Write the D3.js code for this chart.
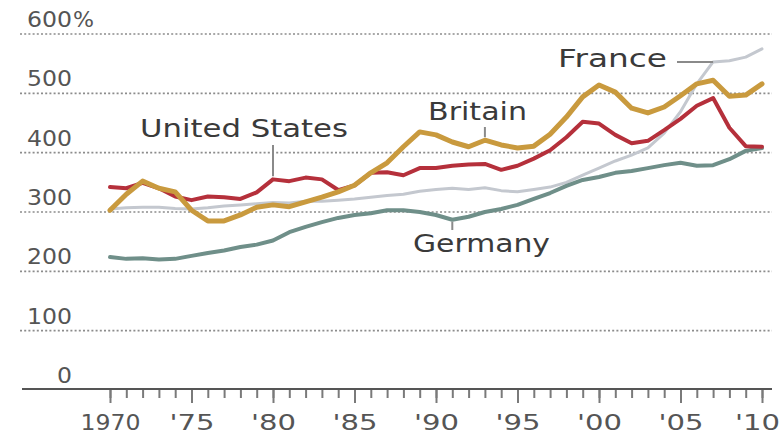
<!DOCTYPE html>
<html>
<head>
<meta charset="utf-8">
<script src="https://cdn.jsdelivr.net/npm/d3@7"></script>
<style>
  html, body { margin: 0; padding: 0; background: #fff; }
  svg { display: block; }
  text { font-family: "DejaVu Sans", Verdana, sans-serif; }
</style>
</head>
<body>
<svg id="chart" width="781" height="436"></svg>
<script>
// Household debt as a share of disposable income, 1970–2010
const years = d3.range(1970, 2011);

const unitedStates = [342, 340, 349, 340, 326, 320, 326, 325, 322, 333,
  355, 352, 358, 355, 337, 345, 366, 367, 362, 374,
  374, 378, 380, 381, 371, 378, 390, 404, 426, 452,
  449, 430, 416, 420, 438, 457, 479, 492, 442, 411, 410];

const britain = [303, 330, 352, 340, 334, 303, 285, 285, 295, 308,
  312, 309, 317, 325, 334, 345, 366, 383, 410, 435,
  430, 418, 410, 421, 413, 408, 411, 431, 460, 494,
  514, 502, 475, 467, 477, 496, 516, 522, 495, 497, 516];

const france = [305, 307, 308, 308, 306, 305, 307, 310, 312, 314,
  316, 315, 318, 318, 320, 322, 325, 328, 330, 335,
  338, 340, 338, 341, 336, 334, 338, 342, 350, 362,
  374, 386, 396, 408, 433, 469, 516, 553, 555, 561, 575];

const germany = [224, 221, 222, 220, 221, 226, 231, 235, 241, 245,
  252, 266, 275, 283, 290, 295, 298, 303, 303, 300,
  295, 287, 292, 300, 305, 312, 322, 332, 344, 354,
  359, 366, 369, 374, 379, 383, 378, 379, 389, 403, 408];

const yTicks = [100, 200, 300, 400, 500, 600];
const yTickLabels = ["0", "100", "200", "300", "400", "500", "600"];
const xMajorTicks = [1970, 1975, 1980, 1985, 1990, 1995, 2000, 2005, 2010];
const xTickLabels = ["1970", "'75", "'80", "'85", "'90", "'95", "'00", "'05", "'10"];

const series = [
  { name: "France", values: france, color: "#c4c8cf", width: 3 },
  { name: "Germany", values: germany, color: "#6f8f89", width: 4 },
  { name: "United States", values: unitedStates, color: "#b5303b", width: 4 },
  { name: "Britain", values: britain, color: "#c99a3e", width: 5 }
];

const svg = d3.select("#chart");
const x = d3.scaleLinear().domain([1970, 2010]).range([110, 762]);
const y = d3.scaleLinear().domain([0, 600]).range([390, 34]);

// dotted gridlines
svg.append("g").selectAll("line").data(yTicks).join("line")
  .attr("x1", 20).attr("x2", 772)
  .attr("y1", d => y(d)).attr("y2", d => y(d))
  .attr("stroke", "#8c8c8c").attr("stroke-width", 1.6)
  .attr("stroke-dasharray", "2,2.2");

// y labels sit just above their gridline
const yLab = svg.append("g").attr("fill", "#555").attr("font-size", 21);
yLab.selectAll("text").data(yTickLabels).join("text")
  .attr("x", 72).attr("y", (d, i) => y(i * 100) - 7)
  .attr("text-anchor", "end")
  .attr("textLength", d => d.length * 15)
  .attr("lengthAdjust", "spacingAndGlyphs")
  .text(d => d);
yLab.append("text").attr("x", 73).attr("y", y(600) - 7)
  .attr("textLength", 21).attr("lengthAdjust", "spacingAndGlyphs")
  .text("%");

// x axis: yearly minor ticks and five-year major ticks
const minorAxis = d3.axisBottom(x).tickValues(years).tickSize(9).tickFormat("");
const majorAxis = d3.axisBottom(x).tickValues(xMajorTicks).tickSize(14)
  .tickFormat((d, i) => xTickLabels[i]);

const gMinor = svg.append("g").attr("transform", "translate(0,389)").call(minorAxis);
gMinor.select(".domain").remove();
gMinor.selectAll(".tick line").attr("stroke", "#7a7a7a").attr("stroke-width", 2);

const gMajor = svg.append("g").attr("transform", "translate(0,389)").call(majorAxis);
gMajor.select(".domain").remove();
gMajor.selectAll(".tick line").attr("stroke", "#7a7a7a").attr("stroke-width", 2);
gMajor.selectAll(".tick text")
  .attr("y", 41).attr("dy", 0)
  .attr("x", (d, i) => i === xTickLabels.length - 1 ? -5 : 0)
  .attr("fill", "#555")
  .attr("font-size", 21)
  .attr("font-family", "DejaVu Sans, Verdana, sans-serif")
  .attr("textLength", (d, i) => xTickLabels[i].length * 15)
  .attr("lengthAdjust", "spacingAndGlyphs");

svg.append("line")
  .attr("x1", 22).attr("x2", 772).attr("y1", 389).attr("y2", 389)
  .attr("stroke", "#555").attr("stroke-width", 2);

// series lines
const line = d3.line().x((d, i) => x(years[i])).y(d => y(d)).curve(d3.curveLinear);
svg.append("g").selectAll("path").data(series).join("path")
  .attr("d", d => line(d.values))
  .attr("fill", "none")
  .attr("stroke", d => d.color)
  .attr("stroke-width", d => d.width)
  .attr("stroke-linejoin", "round")
  .attr("stroke-linecap", "round");

// direct labels with leader lines
const leaders = svg.append("g").attr("stroke", "#8a8a8a").attr("stroke-width", 2);
leaders.append("line").attr("x1", x(1980)).attr("x2", x(1980)).attr("y1", 145).attr("y2", y(unitedStates[10]) - 3);
leaders.append("line").attr("x1", x(1993)).attr("x2", x(1993)).attr("y1", 127).attr("y2", y(britain[23]) - 3);
leaders.append("line").attr("x1", x(1991)).attr("x2", x(1991)).attr("y1", y(germany[21]) + 2).attr("y2", 230);
leaders.append("line").attr("x1", 677).attr("x2", x(2007)).attr("y1", y(france[37])).attr("y2", y(france[37]));

const labels = [
  { text: "United States", x: 140, y: 137, w: 208 },
  { text: "Britain", x: 428, y: 120, w: 99 },
  { text: "France", x: 558, y: 67, w: 109 },
  { text: "Germany", x: 413, y: 252, w: 137 }
];
svg.append("g").selectAll("text").data(labels).join("text")
  .attr("x", d => d.x).attr("y", d => d.y)
  .attr("font-size", 25).attr("fill", "#3a3a3a")
  .attr("textLength", d => d.w).attr("lengthAdjust", "spacingAndGlyphs")
  .text(d => d.text);
</script>
</body>
</html>
